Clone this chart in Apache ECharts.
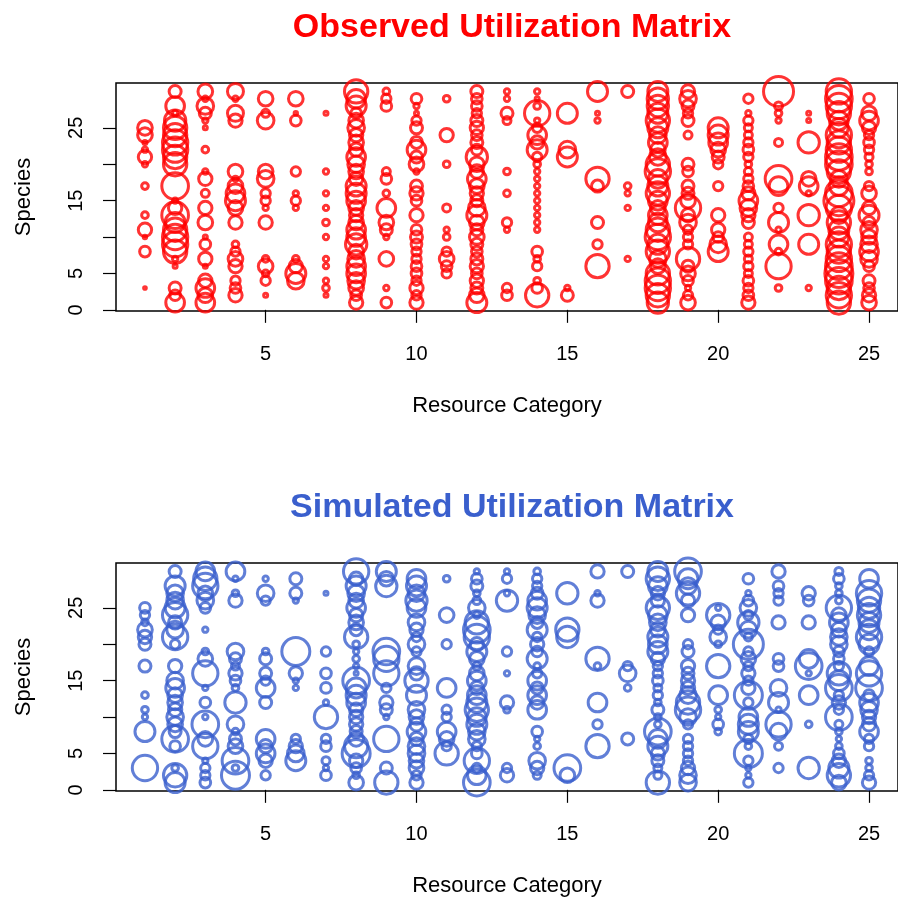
<!DOCTYPE html>
<html>
<head>
<meta charset="utf-8">
<script src="https://cdn.jsdelivr.net/npm/echarts@6/dist/echarts.min.js"></script>
<style>
  html, body { margin: 0; padding: 0; background: #fff; }
  #chart { width: 898px; height: 900px; }
</style>
</head>
<body>
<div id="chart"></div>
<script>
// utilization per resource category (1..25): [species, utilization] pairs,
// or a plain list when every species 1..30 is present
var observed = [
  [[3,4],[8,16],[10,5],[11,20],[13,10],[17,10],[20,8],[21,20],[22,8],[23,6],[24,22],[25,22]],
  [[1,28],[2,16],[3,18],[6,6],[7,8],[8,35],[9,38],[10,38],[11,35],[12,30],[13,40],[14,20],[15,8],[17,40],[20,35],[21,35],[22,38],[23,38],[24,35],[25,35],[26,32],[27,8],[28,28],[30,18]],
  [[1,28],[2,22],[3,28],[4,20],[6,6],[7,20],[9,16],[10,6],[12,22],[14,20],[16,12],[18,20],[19,8],[22,10],[25,6],[26,8],[27,18],[28,25],[29,8],[30,22]],
  [[2,20],[3,16],[4,14],[6,20],[7,22],[8,14],[9,10],[12,20],[14,22],[15,30],[16,28],[17,22],[18,8],[19,22],[26,20],[27,24],[29,8],[30,24]],
  [[2,6],[4,14],[5,10],[6,22],[7,10],[12,20],[14,8],[15,14],[16,14],[18,25],[19,22],[26,25],[27,12],[29,22]],
  [[4,25],[5,30],[6,20],[7,10],[14,8],[15,14],[16,8],[19,14],[26,16],[27,5],[29,22]],
  [[2,6],[3,10],[4,8],[6,8],[7,8],[10,8],[12,10],[14,8],[16,8],[19,8],[27,6]],
  [20,16,22,25,28,28,25,22,32,28,28,22,20,22,28,30,30,20,22,25,28,20,22,20,25,22,16,30,28,35],
  [[1,16],[3,8],[7,22],[10,8],[11,18],[12,22],[14,28],[16,10],[18,16],[19,12],[28,16],[29,14],[30,10]],
  [[1,20],[2,14],[3,20],[4,14],[5,16],[6,16],[7,14],[8,14],[9,16],[10,18],[11,16],[13,20],[15,16],[16,20],[17,18],[19,8],[20,22],[21,18],[22,28],[23,18],[25,18],[26,14],[27,6],[28,8],[29,16]],
  [[5,14],[6,16],[7,22],[8,14],[10,10],[11,8],[14,12],[20,10],[24,20],[29,10]],
  [30,22,18,20,16,20,18,16,18,22,18,22,30,25,18,20,22,28,20,22,32,16,18,16,20,18,14,16,16,18],
  [[2,16],[3,14],[11,8],[12,14],[16,10],[19,10],[26,12],[27,18],[29,8],[30,8]],
  [[2,35],[3,16],[4,10],[6,14],[7,10],[8,16],[11,8],[12,8],[13,8],[14,8],[15,8],[16,8],[17,8],[18,8],[19,8],[20,10],[21,14],[22,30],[23,20],[24,28],[25,14],[26,8],[27,38],[28,10],[29,6],[30,8]],
  [[2,18],[3,8],[21,30],[22,25],[27,30]],
  [[6,35],[9,14],[12,18],[17,18],[18,35],[26,8],[27,6],[30,30]],
  [[7,8],[14,8],[16,8],[17,10],[30,18]],
  [32,35,38,38,35,22,25,35,30,38,35,28,28,22,28,35,30,28,38,35,25,22,28,25,30,35,30,32,32,30],
  [[1,22],[2,14],[3,8],[4,16],[5,22],[6,18],[7,35],[9,14],[10,14],[11,14],[12,25],[13,20],[14,38],[15,22],[16,18],[17,18],[19,16],[20,18],[24,12],[26,18],[27,14],[28,18],[29,25],[30,20]],
  [[8,30],[9,25],[10,16],[11,20],[13,20],[17,14],[20,14],[21,18],[22,22],[23,28],[24,30],[25,30]],
  [[1,20],[2,16],[3,14],[4,16],[5,12],[6,14],[7,12],[8,14],[9,12],[10,12],[12,18],[13,20],[14,25],[15,28],[16,20],[17,16],[18,14],[19,12],[20,10],[21,14],[22,16],[23,14],[24,12],[25,12],[26,14],[27,8],[29,14]],
  [[3,10],[6,38],[8,10],[9,28],[11,8],[12,30],[14,14],[17,28],[18,40],[23,12],[26,8],[27,10],[28,12],[30,45]],
  [[3,8],[9,30],[13,32],[16,8],[17,28],[18,22],[23,32],[26,6],[27,6]],
  [35,38,35,40,42,40,38,35,38,30,30,35,25,38,45,40,28,25,35,40,40,38,35,38,28,28,35,38,40,38],
  [[1,22],[2,20],[3,16],[4,18],[6,16],[7,25],[8,28],[9,25],[10,22],[11,25],[12,18],[13,30],[14,20],[16,22],[17,14],[19,10],[20,10],[21,12],[22,14],[23,16],[24,14],[25,20],[26,28],[27,22],[29,16]]
];

var simulated = [
  [[3,38],[8,30],[10,8],[11,10],[13,10],[17,18],[20,18],[21,20],[22,22],[23,10],[24,14],[25,16]],
  [[1,30],[2,35],[3,10],[6,16],[7,40],[8,18],[9,22],[10,25],[11,20],[12,22],[13,22],[14,28],[15,25],[17,20],[20,14],[21,38],[22,25],[23,20],[24,38],[25,30],[26,25],[27,25],[28,30],[30,18]],
  [[1,16],[2,14],[3,14],[4,8],[6,38],[7,22],[9,40],[10,8],[12,16],[14,8],[16,38],[18,22],[19,10],[22,8],[25,16],[26,25],[27,22],[28,38],[29,35],[30,28]],
  [[2,42],[3,10],[4,40],[6,22],[7,18],[8,10],[9,25],[12,32],[14,10],[15,16],[16,20],[17,12],[18,18],[19,25],[26,20],[27,10],[29,8],[30,28]],
  [[2,14],[4,20],[5,28],[6,20],[7,28],[12,18],[14,28],[15,14],[16,18],[18,18],[19,10],[26,14],[27,25],[29,8]],
  [[4,30],[5,25],[6,20],[7,14],[14,8],[15,8],[16,20],[19,42],[26,8],[27,18],[29,18]],
  [[2,16],[3,8],[4,12],[6,16],[7,14],[10,35],[12,8],[14,16],[16,16],[19,14],[27,6]],
  [22,10,16,20,42,35,22,18,20,20,20,28,30,30,40,6,8,10,8,10,35,18,22,20,28,22,25,30,20,38],
  [[1,35],[3,18],[7,38],[10,8],[11,18],[12,20],[14,14],[16,38],[18,38],[19,40],[28,32],[29,22],[30,30]],
  [[1,20],[2,14],[3,22],[4,22],[5,25],[6,25],[7,20],[8,28],[9,20],[10,22],[11,25],[13,30],[15,35],[16,20],[17,25],[19,14],[20,25],[21,14],[22,20],[23,25],[25,28],[26,32],[27,25],[28,30],[29,28]],
  [[5,35],[6,14],[7,22],[8,28],[10,14],[11,14],[14,28],[20,14],[24,22],[29,10]],
  [40,28,14,38,16,14,25,25,30,28,35,30,28,20,28,22,12,22,30,20,38,40,35,10,25,12,10,18,16,8],
  [[2,20],[3,14],[11,10],[12,20],[16,8],[19,14],[26,32],[27,8],[29,14],[30,8]],
  [[2,12],[3,20],[4,25],[6,10],[7,8],[8,16],[11,28],[12,20],[13,28],[14,18],[15,28],[16,14],[17,10],[18,30],[19,16],[20,20],[21,14],[22,30],[23,18],[24,25],[25,30],[26,28],[27,18],[28,14],[29,14],[30,10]],
  [[2,22],[3,40],[21,32],[22,35],[27,32]],
  [[6,35],[9,14],[12,28],[17,10],[18,35],[26,20],[27,8],[30,20]],
  [[7,18],[14,10],[16,25],[17,14],[30,18]],
  [35,12,12,18,20,30,28,40,10,10,18,10,14,12,16,14,14,20,30,28,30,22,25,28,35,20,20,28,35,30],
  [[1,25],[2,25],[3,20],[4,14],[5,14],[6,14],[7,14],[9,14],[10,25],[11,38],[12,35],[13,25],[14,20],[15,20],[16,18],[17,20],[19,18],[20,14],[24,20],[26,20],[27,35],[28,25],[29,30],[30,40]],
  [[8,10],[9,16],[10,8],[11,10],[13,28],[17,35],[20,10],[21,25],[22,14],[23,22],[24,35],[25,8]],
  [[1,14],[2,8],[3,8],[4,14],[5,42],[6,10],[7,14],[8,30],[9,30],[10,28],[12,14],[13,42],[14,20],[15,14],[16,20],[17,14],[18,22],[19,14],[20,45],[21,12],[22,25],[23,32],[24,14],[25,25],[26,16],[27,8],[29,16]],
  [[3,14],[6,12],[8,25],[9,38],[11,8],[12,30],[14,25],[17,16],[18,16],[23,20],[26,14],[27,14],[28,16],[30,20]],
  [[3,32],[9,10],[13,28],[16,8],[17,40],[18,28],[23,20],[26,16],[27,20]],
  [22,35,30,20,16,10,8,10,12,40,14,20,14,40,30,35,14,16,16,25,25,22,28,22,38,10,10,10,16,12],
  [[1,20],[2,14],[3,10],[4,10],[6,14],[7,14],[8,28],[9,20],[10,20],[11,25],[12,28],[13,16],[14,40],[16,38],[17,28],[19,14],[20,30],[21,38],[22,30],[23,30],[24,35],[25,32],[26,35],[27,38],[29,28]]
];

var xTicks = [5, 10, 15, 20, 25];
var yTicks = [0, 5, 10, 15, 20, 25];
var yLabels = [0, 5, 15, 25];

function toPoints(cols) {
  var out = [];
  cols.forEach(function (col, i) {
    col.forEach(function (e, j) {
      if (Array.isArray(e)) out.push([i + 1, e[0], e[1]]);
      else out.push([i + 1, j + 1, e]);
    });
  });
  return out;
}

var FONT = '"Liberation Sans", Arial, Helvetica, sans-serif';
var tops = [83, 563];

function xAx(idx) {
  return {
    gridIndex: idx, type: 'value', min: 0.04, max: 25.96,
    name: 'Resource Category', nameLocation: 'middle', nameGap: 84,
    nameTextStyle: { color: '#000', fontSize: 22, fontFamily: FONT },
    axisLine: { show: false },
    splitLine: { show: false },
    axisTick: { show: true, length: 13, customValues: xTicks, lineStyle: { color: '#000', width: 1.2 } },
    axisLabel: { customValues: xTicks, color: '#000', fontSize: 20, fontFamily: FONT, margin: 33 }
  };
}
function yAx(idx) {
  return {
    gridIndex: idx, type: 'value', min: -0.16, max: 31.16,
    name: 'Species', nameLocation: 'middle', nameGap: 81, nameRotate: 90,
    nameTextStyle: { color: '#000', fontSize: 22, fontFamily: FONT },
    axisLine: { show: false },
    splitLine: { show: false },
    axisTick: { show: true, length: 13, customValues: yTicks, lineStyle: { color: '#000', width: 1.2 } },
    axisLabel: {
      customValues: yLabels, rotate: 90, color: '#000', fontSize: 20, fontFamily: FONT, margin: 30
    }
  };
}

var chart = echarts.init(document.getElementById('chart'));
chart.setOption({
  backgroundColor: '#fff',
  animation: false,
  graphic: [
    { type: 'text', x: 512, y: 28, style: { text: 'Observed Utilization Matrix', fill: '#FF0000',
      font: 'bold 34px ' + FONT, textAlign: 'center', textVerticalAlign: 'middle' } },
    { type: 'text', x: 512, y: 508, style: { text: 'Simulated Utilization Matrix', fill: '#3A5FCD',
      font: 'bold 34px ' + FONT, textAlign: 'center', textVerticalAlign: 'middle' } }
  ],
  grid: tops.map(function (t) {
    return { left: 116, top: t, width: 790, height: 228, show: true,
      borderColor: '#000', borderWidth: 1.5, backgroundColor: 'transparent' };
  }),
  xAxis: [xAx(0), xAx(1)],
  yAxis: [yAx(0), yAx(1)],
  series: [
    { type: 'scatter', xAxisIndex: 0, yAxisIndex: 0, data: toPoints(observed), clip: true,
      symbol: 'circle', symbolSize: function (d) { return d[2] * 2 / 3; },
      itemStyle: { color: 'transparent', borderColor: '#FF0000', borderWidth: 3 } },
    { type: 'scatter', xAxisIndex: 1, yAxisIndex: 1, data: toPoints(simulated), clip: true,
      symbol: 'circle', symbolSize: function (d) { return d[2] * 2 / 3; },
      itemStyle: { color: 'transparent', borderColor: '#3A5FCD', borderWidth: 3 } }
  ]
});
</script>
</body>
</html>
